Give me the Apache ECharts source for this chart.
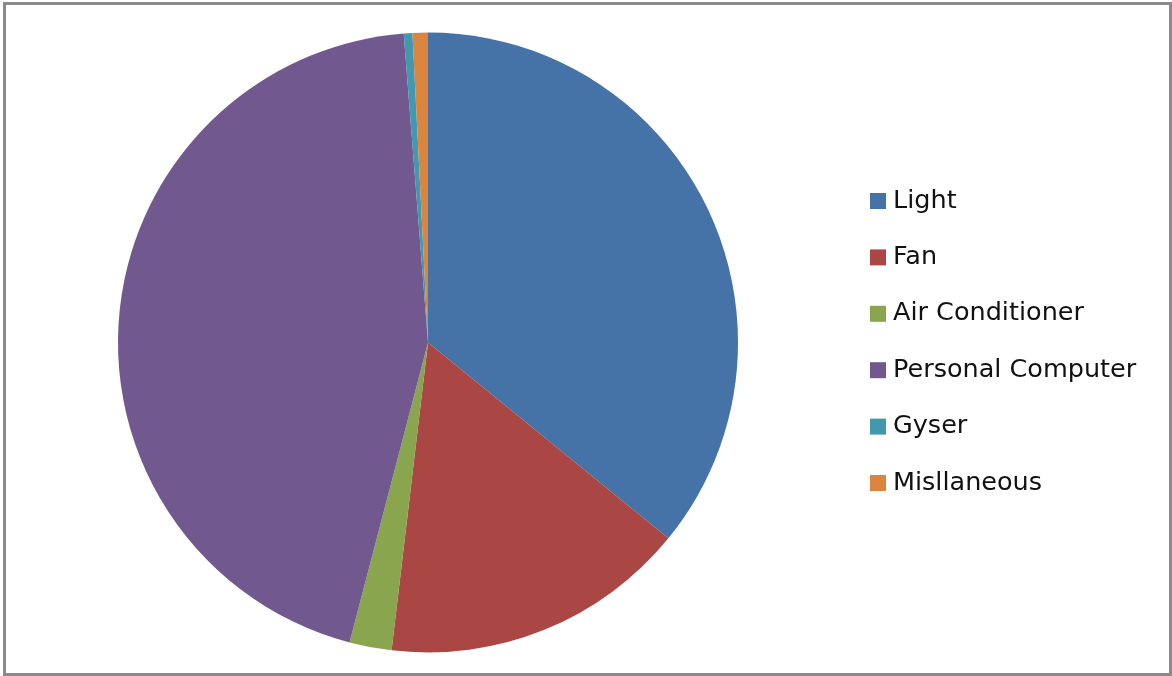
<!DOCTYPE html>
<html>
<head>
<meta charset="utf-8">
<script src="https://cdn.jsdelivr.net/npm/echarts@6/dist/echarts.min.js"></script>
<style>
html,body{margin:0;padding:0;background:#fff;}
#chart{width:1172px;height:676px;}
</style>
</head>
<body>
<div id="chart"></div>
<script>
const categories = ['Light', 'Fan', 'Air Conditioner', 'Personal Computer', 'Gyser', 'Misllaneous'];
const values = [35.9, 16.0, 2.2, 44.7, 0.45, 0.8];
const colors = ['#4572A7', '#AA4643', '#89A54E', '#71588F', '#4198AF', '#DB843D'];

const chart = echarts.init(document.getElementById('chart'), null, {renderer: 'canvas'});
chart.setOption({
  animation: false,
  color: colors,
  graphic: [{
    type: 'rect',
    shape: {x: 4.5, y: 3.5, width: 1166, height: 671},
    style: {fill: 'none', stroke: '#8a8a8a', lineWidth: 3},
    silent: true
  }],
  legend: {
    orient: 'vertical',
    left: 865,
    top: 183,
    itemWidth: 16,
    itemHeight: 16,
    itemGap: 30.4,
    icon: 'rect',
    data: categories,
    textStyle: {
      fontFamily: 'DejaVu Sans',
      fontSize: 25.5,
      color: '#111',
      padding: [0, 0, 0, 2]
    }
  },
  series: [{
    type: 'pie',
    center: [428, 342.5],
    radius: 310,
    startAngle: 90,
    clockwise: true,
    label: {show: false},
    labelLine: {show: false},
    emphasis: {disabled: true},
    itemStyle: {borderWidth: 0},
    data: categories.map((c, i) => ({name: c, value: values[i]}))
  }]
});
</script>
</body>
</html>
